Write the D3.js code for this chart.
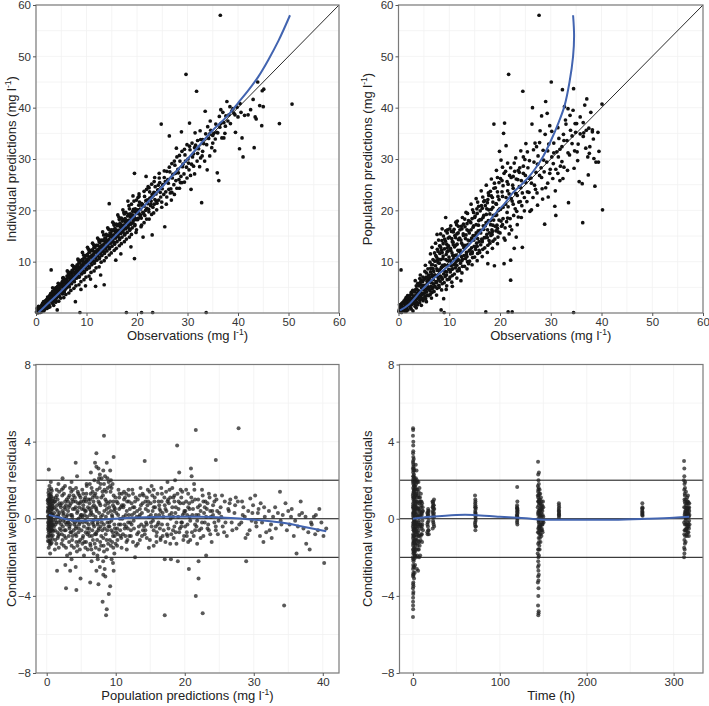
<!DOCTYPE html>
<html><head><meta charset="utf-8">
<script src="https://cdn.jsdelivr.net/npm/d3@7"></script>
<style>body{margin:0;background:#fff} text{font-family:"Liberation Sans",Arial,Helvetica,sans-serif}</style>
</head><body><svg id="c" width="709" height="706"></svg>
<script>
// Panel A: observations vs individual predictions
const obsIpred = [[0.1,0.2],[0.3,0.6],[0.4,0.1],[0.6,0.9],[0.7,0.4],[0.9,1.2],[0.9,0.3],[0.5,1.3],[0.2,0.9],[0.8,0.1],
[1.1,1.5],[1.2,0.8],[1.3,1.9],[1.4,1.1],[1.5,2.2],[1.6,1.3],[1.7,1.7],[1.8,0.9],[1.9,2.4],[1.5,0.4],
[2.1,2.6],[2.2,1.7],[2.3,3.1],[2.4,2.2],[2.5,2.8],[2.6,1.6],[2.7,3.4],[2.8,2.5],[2.9,3.8],[2.5,1.1],
[3,8.4],[3.1,3.5],[3.2,2.7],[3.3,4.2],[3.4,3.1],[3.5,3.7],[3.6,2.4],[3.7,4.5],[3.8,3.5],[3.9,4.9],[3.5,1.5],
[4.1,4.4],[4.2,3.3],[4.3,5.2],[4.4,4],[4.5,4.8],[4.6,3.2],[4.7,5.6],[4.8,4.3],[4.9,5.1],[4.5,2.3],[4.2,0.6],
[5.1,5.5],[5.2,4.3],[5.3,6.2],[5.4,5],[5.5,5.9],[5.6,4.1],[5.7,6.6],[5.8,5.2],[5.9,6],[5.5,3],[5.3,6.8],
[6.1,6.5],[6.2,5.3],[6.3,7.1],[6.4,6],[6.5,7.5],[6.6,5.1],[6.7,6.9],[6.8,5.8],[6.9,7.8],[6.5,3.9],[6.2,8.2],
[7.1,7.4],[7.2,6.3],[7.3,8.1],[7.4,7],[7.5,8.6],[7.6,6.1],[7.7,7.9],[7.8,6.8],[7.9,9],[7.5,4.8],[7.2,9.3],[7.8,2.2],
[8.1,8.5],[8.2,7.3],[8.3,9.1],[8.4,8],[8.5,9.7],[8.6,7.1],[8.7,8.9],[8.8,7.8],[8.9,10.2],[8.5,5.5],[8.3,10.5],[8.7,0.1],[8.9,4.6],
[9.1,9.4],[9.2,8.2],[9.3,10.1],[9.4,9],[9.5,10.7],[9.6,8.1],[9.7,9.9],[9.8,8.8],[9.9,11.2],[9.5,6.5],[9.2,11.8],[9.8,5.3],
[10.1,10.4],[10.2,9.2],[10.3,11.1],[10.4,9.9],[10.5,11.8],[10.6,9],[10.7,10.9],[10.8,9.8],[10.9,12.2],[10.5,7.2],[10.2,12.8],[10.8,6.6],
[11.1,11.3],[11.2,10.1],[11.3,12.1],[11.4,10.9],[11.5,12.8],[11.6,10],[11.7,11.9],[11.8,5.2],[11.9,13.2],[11.5,8.2],[11.2,13.6],[11.8,10.7],
[12.1,12.3],[12.2,11.1],[12.3,13.1],[12.4,11.8],[12.5,13.9],[12.6,10.9],[12.7,12.8],[12.8,11.6],[12.9,14.2],[12.5,9],[12.2,14.6],[12.8,7.4],
[13.1,13.2],[13.2,12],[13.3,14.2],[13.4,12.8],[13.5,5.5],[13.6,11.9],[13.7,13.9],[13.8,12.6],[13.9,15.3],[13.5,10.2],[13.2,15.8],[13.8,14.6],
[14.1,14.1],[14.2,13],[14.3,15.1],[14.4,13.8],[14.5,21.3],[14.6,12.8],[14.7,14.9],[14.8,13.6],[14.9,16.2],[14.5,11.3],[14.2,16.6],[14.8,15.5],
[15.1,15.1],[15.2,13.9],[15.3,16.2],[15.4,14.7],[15.5,17.1],[15.6,13.7],[15.7,15.9],[15.8,14.6],[15.9,17.3],[15.5,12.2],[15.2,17.7],[15.8,10.3],
[16.1,16.1],[16.2,14.9],[16.3,17.2],[16.4,15.6],[16.5,18.2],[16.6,14.6],[16.7,16.8],[16.8,15.5],[16.9,18.5],[16.5,13.1],[16.2,19.1],[16.8,11.5],
[17.1,17],[17.2,15.8],[17.3,18.2],[17.4,16.5],[17.5,19.3],[17.6,15.4],[17.7,17.8],[17.8,16.4],[17.9,0.1],[17.5,13.9],[17.2,20.1],[17.8,19.6],
[18.1,18],[18.2,16.7],[18.3,19.2],[18.4,17.3],[18.5,20.3],[18.6,16.3],[18.7,18.7],[18.8,17.3],[18.9,21.2],[18.5,14.8],[18.2,21.8],[18.8,12.9],
[19.1,19],[19.2,17.6],[19.3,20.2],[19.4,18.2],[19.5,27.2],[19.6,17.2],[19.7,19.7],[19.8,18.2],[19.9,22],[19.5,10.6],[19.2,22.8],[19.8,15.7],
[20.1,20.1],[20.3,18.5],[20.5,21.6],[20.7,19],[20.9,0.1],[20.4,23.2],[20.8,16.8],[20.2,22.5],
[21.1,21],[21.3,19.4],[21.5,22.7],[21.7,20],[21.9,24.1],[21.4,17.6],[21.8,26.6],[21.2,14.8],
[22.1,22],[22.3,20.2],[22.5,23.6],[22.7,20.9],[22.9,25.1],[22.4,18.3],[22.8,21.8],[22.2,24.6],
[23,15.2],[23.1,0.1],[23.2,22.9],[23.4,21.2],[23.6,24.6],[23.8,21.8],[23.5,26.4],[23.3,19.5],
[24.1,24],[24.3,22],[24.5,25.4],[24.7,22.6],[24.8,36.8],[24.4,27.2],[24.9,20.6],
[25.1,25],[25.3,23.1],[25.5,16.8],[25.7,23.6],[25.9,27.6],[25.4,26.4],[25.8,21.2],
[26.1,26],[26.3,24.1],[26.5,27.5],[26.7,24.2],[26.9,29.1],[26.4,34.5],[26.8,22],
[27.1,27],[27.3,25],[27.5,28.8],[27.7,25.8],[27.9,30.4],[27.4,23.1],[27.8,32.1],
[28.1,28],[28.3,26],[28.5,29.6],[28.7,26.6],[28.9,31.5],[28.4,24.3],[28.8,35.3],
[29.1,29],[29.3,27.1],[29.5,30.8],[29.7,46.5],[29.9,32.8],[29.4,25.5],[29.8,28.4],
[30.1,30],[30.3,27.9],[30.5,31.8],[30.7,24.1],[30.9,33.1],[30.4,37],[30.8,29],
[31.2,31],[31.4,27.1],[31.6,32.7],[31.8,43.2],[31.5,35.1],[31.9,29.6],
[32.2,32],[32.4,28.5],[32.6,33.8],[32.8,21.5],[32.5,35.5],[32.9,30.6],
[33.2,33],[33.4,29.6],[33.6,34.9],[33.7,0.1],[33.5,39.3],[33.9,27.9],
[34.2,34],[34.4,30.6],[34.6,35.6],[34.8,32.2],[34.5,37.4],
[35.2,35],[35.4,31.6],[35.6,36.8],[35.9,27.3],[35.5,33.9],
[36.2,25.8],[36.4,36.2],[36.5,58],[36.6,39.6],[36.8,34.1],[36.3,38.3],
[37.2,37.1],[37.4,35],[37.6,38.4],[37.8,41.2],[37.5,36.4],
[38.2,38.6],[38.5,36.9],[38.8,39.4],[38.4,40.2],
[39.2,38.9],[39.5,35.2],[39.8,40.1],[39.4,38.6],
[40.3,32],[40.4,40.8],[40.6,39.1],[40.8,34.1],[41,30.4],[41.3,38.5],[42.5,39.6],[43,41.6],[43.2,32.2],[43.4,38.2],[43.6,37.8],[43.9,45],[44.3,40.4],[44.7,36.5],[44.8,43.3],[45.1,43.6],[45,40.2],[48.2,36.9],[50.7,40.7],[42,38.6]];
const obsIpredBand = [[0.35,0.05],[0.55,0.7],[0.75,0.15],[0.95,0.8],[1.05,0.2],[1.25,1.3],[1.35,0.5],[1.45,1.7],[1.65,0.6],[1.75,1.4],[1.95,1.1],[2.05,2],[2.15,0.9],[2.35,2.4],[2.45,1.4],[2.65,2.3],[2.75,1.2],[2.95,3.1],[3.05,2.2],[3.15,3.9],[3.25,1.9],[3.45,2.8],[3.55,4.2],[3.65,3.1],[3.85,2.4],[3.95,3.9],[4.05,2.9],[4.15,5],[4.35,3.7],[4.45,4.6],[4.55,3.4],[4.65,5.1],[4.85,3.9],[4.95,5.6],[5.05,4.2],[5.15,6],[5.25,3.7],[5.45,5.3],[5.55,4.4],[5.65,6.4],[5.75,4.6],[5.95,5.5],[6.05,4.9],[6.15,7.2],[6.25,5.8],[6.45,6.9],[6.55,5.5],[6.65,7.9],[6.75,6.3],[6.95,6.6],[7.05,5.7],[7.15,8.3],[7.25,6.9],[7.45,7.8],[7.55,6.2],[7.65,8.8],[7.75,7.3],[7.95,8.1],[8.05,6.8],[8.15,9.4],[8.25,7.8],[8.45,8.6],[8.55,7],[8.65,9.9],[8.75,8.3],[8.95,9.2],[9.05,7.6],[9.15,10.4],[9.25,8.7],[9.45,9.7],[9.55,7.9],[9.65,10.8],[9.75,9.2],[9.95,10.1],[10.05,8.5],[10.15,11.4],[10.25,9.6],[10.45,10.6],[10.55,8.8],[10.65,11.9],[10.75,10.1],[10.95,11],[11.05,9.4],[11.15,12.3],[11.25,10.5],[11.45,11.5],[11.55,9.7],[11.65,12.8],[11.75,11],[11.95,11.9],[12.05,10.3],[12.15,13.2],[12.25,11.5],[12.45,12.4],[12.55,10.6],[12.65,13.7],[12.75,11.9],[12.95,12.9],[13.05,11.2],[13.15,14.1],[13.25,12.4],[13.45,13.4],[13.55,11.6],[13.65,14.6],[13.75,12.9],[13.95,13.8],[14.05,12.1],[14.15,15.1],[14.25,13.4],[14.45,14.3],[14.55,12.5],[14.65,15.6],[14.75,13.8],[14.95,14.8],[15.05,13],[15.15,16],[15.25,14.3],[15.45,15.2],[15.55,13.4],[15.65,16.5],[15.75,14.8],[15.95,15.7],[16.05,13.9],[16.15,17],[16.25,15.2],[16.45,16.1],[16.55,14.3],[16.65,17.5],[16.75,15.7],[16.95,16.6],[17.05,14.8],[17.15,17.9],[17.25,16.1],[17.45,17.1],[17.55,15.2],[17.65,18.4],[17.75,16.6],[17.95,17.5],[18.05,15.7],[18.15,18.9],[18.25,17],[18.45,18],[18.55,16.1],[18.65,19.3],[18.75,17.5],[18.95,18.5],[19.05,16.6],[19.15,19.8],[19.25,18],[19.45,18.9],[19.55,17],[19.65,20.3],[19.75,18.4],[19.95,19.4],[20.15,18.2],[20.35,21],[20.45,19.3],[20.65,20.2],[20.85,18.5],[20.95,21.3],[21.15,19.6],[21.35,20.8],[21.55,19],[21.75,21.9],[21.95,20.4],[22.15,21.3],[22.35,19.7],[22.55,22.4],[22.75,21.2],[22.95,22.6],[23.15,20.6],[23.35,23.5],[23.55,22.1],[23.75,23.2],[23.95,21.4],[24.2,24.9],[24.6,23.5],[25,24.2],[25.6,25.6],[26.2,25.3],[26.6,23.4],[27,26.3],[27.6,27.2],[28.2,27.3],[28.6,25.4],[29,28.5],[29.6,29.6],[30.2,29.2],[30.6,26.8],[31,30.4],[31.4,32.2],[32,31.1],[32.6,30.2],[33,33.8],[33.8,32.8],[34.4,34.9],[35,33.1],[35.8,35.2],[36.6,36.9],[37.2,34.1],[38,37.4],[39,39.8],[40,38.2]];
const obsIpredEdge = [[3.3,4.9],[3.9,2.1],[4.4,5.8],[4.9,2.9],[5.4,6.9],[5.9,3.6],[6.4,7.8],[6.9,4.4],[7.4,9.1],[7.9,5.3],[8.4,10.3],[8.9,6.1],[9.4,11.3],[9.9,7],[10.4,12.4],[10.9,7.9],[11.4,13.3],[11.9,8.8],[12.4,14.3],[12.9,9.9],[13.4,15.2],[13.9,10.8],[14.4,16.3],[14.9,11.7],[15.4,17.4],[15.9,12.6],[16.4,18.7],[16.9,13.5],[17.4,19.6],[17.9,14.4],[18.4,20.9],[18.9,15.3],[19.4,21.8],[19.9,16.2],[20.4,22.7],[20.9,17.1],[21.4,23.7],[21.9,18.3],[22.4,24.4],[22.9,19.2],[23.4,25.6],[23.9,20.1],[24.4,26.3],[24.9,21.6],[25.4,27.7],[25.9,22.6],[26.4,28.4],[26.9,23.5],[27.4,29.6],[27.9,24.3],[28.4,30.7],[28.9,25.4],[29.4,31.9],[29.9,26.3],[30.4,32.5],[31.2,28.6],[32,33.6],[33,31.5],[34,36.3],[35,34.6],[36,35.1],[37,39.1],[6,6.2],[7,7.1],[8,7.9],[9,9.1],[10,9.9],[11,11.1],[12,12],[13,13.1],[14,13.9],[15,15.1],[16,15.9],[17,17.1],[18,18],[19,19.1],[20,19.9],[21,21.1],[22,22],[23,23.1],[5,5.1],[4,4.1],[3,3.1],[2,2.1],[1,1.1]];
const smoothA = [[0.5,0.1],[2,1.5],[5,4.3],[10,9.3],[15,14.3],[20,19.4],[25,24.6],[30,30],[35,35.6],[38,38.5],[40,40.9],[42,43.3],[44,46],[46,49.3],[48,53],[50.3,58]];

// Panel B: observations vs population predictions
const obsPred = [[0.1,0.3],[0.3,0.9],[0.4,0.2],[0.5,8.4],[0.6,1.5],[0.7,0.6],[0.8,2],[0.9,1.1],[0.2,1.6],[0.6,0.1],
[1.1,1.8],[1.2,0.7],[1.3,2.6],[1.4,1.4],[1.5,3],[1.6,0.9],[1.7,2.2],[1.8,3.4],[1.9,1.6],[1.5,0.3],
[2.1,2.5],[2.2,1.3],[2.3,3.5],[2.4,2],[2.5,4],[2.6,1.6],[2.7,2.9],[2.8,4.4],[2.9,2.3],[2.5,0.8],
[3.1,3.3],[3.2,1.8],[3.3,4.5],[3.4,2.6],[3.5,5.3],[3.6,2.1],[3.7,3.9],[3.8,5.8],[3.9,3],[3.5,1],[3.3,6.3],
[4.1,4.2],[4.2,2.5],[4.3,5.5],[4.4,3.3],[4.5,6.4],[4.6,2.8],[4.7,4.8],[4.8,7],[4.9,3.8],[4.5,1.5],[4.3,7.4],
[5.1,5.3],[5.2,3.3],[5.3,6.8],[5.4,4.2],[5.5,7.8],[5.6,3.4],[5.7,5.8],[5.8,8.6],[5.9,4.8],[5.5,2.2],[5.3,9.3],[5.8,6.5],
[6.1,6.3],[6.2,4.3],[6.3,8],[6.4,5.2],[6.5,9.4],[6.6,4],[6.7,7.1],[6.8,10.4],[6.9,5.7],[6.5,2.9],[6.3,11.5],[6.8,8.6],[6.6,12.8],
[7.1,7.4],[7.2,5.2],[7.3,9.2],[7.4,6.1],[7.5,10.9],[7.6,4.8],[7.7,8.3],[7.8,12],[7.9,6.6],[7.5,3.5],[7.3,13.6],[7.8,9.8],[7.6,15.3],[7.9,14.2],
[8.1,8.4],[8.2,6.2],[8.3,10.4],[8.4,0.6],[8.5,12.2],[8.6,5.7],[8.7,9.3],[8.8,13.5],[8.9,7.6],[8.5,4.5],[8.3,15.4],[8.8,11.1],[8.6,16.4],[8.2,13],[8.9,2.8],
[9,0.1],[9.1,9.4],[9.2,7.1],[9.3,18.6],[9.4,11.4],[9.5,13.4],[9.6,6.5],[9.7,10.2],[9.8,14.6],[9.9,8.5],[9.5,5.3],[9.3,16],[9.8,12.1],[9.6,15.6],[9.4,4.6],
[10.1,10.3],[10.2,8],[10.3,12.2],[10.4,9.2],[10.5,14.5],[10.6,7.3],[10.7,11.2],[10.8,15.8],[10.9,9.4],[10.5,6],[10.3,17],[10.8,13.3],[10.6,5.2],
[11.1,11.2],[11.2,8.8],[11.3,13.2],[11.4,10.1],[11.5,15.4],[11.6,8.2],[11.7,12.2],[11.8,16.9],[11.9,10.3],[11.5,6.8],[11.3,17.7],[11.8,14.3],
[12.1,12.2],[12.2,9.7],[12.3,14.2],[12.4,11],[12.5,16.4],[12.6,9.1],[12.7,13.2],[12.8,17.3],[12.9,11.2],[12.5,7.8],[12.3,6.3],[12.8,15.1],
[13.1,13.2],[13.2,10.6],[13.3,15.2],[13.4,11.8],[13.5,17.4],[13.6,10],[13.7,14.2],[13.8,18],[13.9,12.1],[13.5,8.6],[13.3,19.6],[13.8,16],
[14.1,14.1],[14.2,11.5],[14.3,16.2],[14.4,12.7],[14.5,18.4],[14.6,10.8],[14.7,15.1],[14.8,19.6],[14.9,13],[14.5,9.4],[14.3,21.2],[14.8,17],
[15.1,15.1],[15.2,12.4],[15.3,17.2],[15.4,13.6],[15.5,19.4],[15.6,11.6],[15.7,16],[15.8,20.8],[15.9,13.9],[15.5,10.2],[15.3,22.3],[15.8,18],
[16.1,16.1],[16.2,13.3],[16.3,18.2],[16.4,14.4],[16.5,20.4],[16.6,12.4],[16.7,17],[16.8,21.7],[16.9,14.7],[16.5,11],[16.3,23.8],[16.8,19],
[17.1,17],[17.2,0.2],[17.3,19.2],[17.4,15.3],[17.5,21.5],[17.6,13.2],[17.7,18],[17.8,22.9],[17.9,15.6],[17.5,11.8],[17.3,24.9],[17.8,20.1],[17.6,9.6],
[18.1,18],[18.2,15.1],[18.3,20.2],[18.4,16.2],[18.5,22.5],[18.6,14],[18.7,19],[18.8,36.8],[18.9,9.2],[18.5,12.6],[18.3,26.1],[18.8,24.3],[18.6,17.1],
[19.1,19],[19.2,16],[19.3,21.2],[19.4,17.1],[19.5,23.6],[19.6,14.8],[19.7,20],[19.8,25.4],[19.9,31.5],[19.5,13.5],[19.3,27.8],[19.8,18.1],
[20.1,20.2],[20.3,16.9],[20.5,22.7],[20.7,35],[20.8,9.6],[20.9,37],[20.4,25.8],[20.6,18.4],[20.2,29.8],[20.8,14.6],[20.5,28.4],
[21.1,21.2],[21.3,17.8],[21.5,23.8],[21.6,0.2],[21.7,46.5],[21.9,26.8],[21.4,19.6],[21.2,32.6],[21.8,15.4],[21.5,29.2],
[22.1,6.4],[22.1,10.3],[22.2,22.3],[22.4,0.2],[22.5,24.9],[22.7,19],[22.9,27.6],[22.3,16.2],[22.6,21.2],[22.8,12.6],
[23.1,23.3],[23.3,19.8],[23.5,26],[23.7,21.6],[23.9,28.3],[23.4,17.2],[23.8,24.6],[23.2,14.8],
[24.1,24.4],[24.4,12.8],[24.5,43.2],[24.3,20.9],[24.6,27.2],[24.8,22.5],[24.2,18.6],[24.9,29.9],
[25.1,25.4],[25.3,21.7],[25.5,28.3],[25.7,23.5],[25.9,19.8],[25.4,31.4],[25.8,26.2],
[26.1,26.3],[26.4,40],[26.3,36.8],[26.5,22.5],[26.7,29.4],[26.9,33.1],[26.2,20.1],[26.8,24.9],
[27.1,27.4],[27.3,23.4],[27.5,30.6],[27.7,58],[27.9,35.5],[27.4,21],[27.8,26.8],[27.2,32.4],
[28.1,28.3],[28.3,24.2],[28.5,31.7],[28.8,17.3],[28.9,34.8],[28.4,22.2],[28.7,27.5],[28.2,38.4],
[29,41.2],[29.2,29.4],[29.4,25.3],[29.6,32.9],[29.8,36.5],[29.5,22.6],[29.9,28],[29.3,38.9],
[30.1,45],[30.2,30.4],[30.4,26.2],[30.6,33.1],[30.8,20.8],[31,19],[30.5,29.1],[30.9,23.8],
[31.2,31.4],[31.4,27.2],[31.6,34],[31.8,25.8],[31.5,30.4],[31.9,28.6],
[32.3,43.5],[32.2,32.4],[32.5,34.8],[32.7,40.2],[32.4,26.2],[32.9,37.6],[32.6,28.4],
[33.2,33.6],[33.5,21.5],[33.4,39.8],[33.7,30.8],[33.9,35.6],[33.3,27.8],
[34.5,43.7],[34.5,0.1],[34.2,34.5],[34.4,39.5],[34.7,31.6],[34.9,35.2],[34.6,28.2],
[35.1,36.9],[35.4,32.9],[35.6,25.6],[35.8,34.9],[35.3,29.7],
[36.3,17.6],[36.2,25.2],[36.5,35.1],[36.7,40.5],[36.9,32.1],[36.4,37.1],
[37.1,41.7],[37.3,30.4],[37.5,36],[37.7,32.4],[37.9,39.1],[37.4,26.9],
[38.2,35.7],[38.5,30.1],[38.7,24.7],[38.9,29.4],[38.4,33.9],
[39.3,35.2],[39.5,31.5],[39.4,29.4],[40.1,40.7],[40.2,20.1]];
const obsPredBand = [[0.15,0.6],[0.35,1.3],[0.45,0.4],[0.65,1.9],[0.85,0.8],[1.05,2.3],[1.15,1.1],[1.25,0.3],[1.45,2],[1.55,1.2],[1.75,2.8],[1.85,0.6],[2.05,1.8],[2.15,3.1],[2.35,1],[2.45,2.6],[2.65,3.6],[2.75,1.9],[2.85,0.4],[2.95,3],
[3.05,2.4],[3.15,4.1],[3.25,1.3],[3.45,3.5],[3.55,4.7],[3.65,2.8],[3.75,1.6],[3.85,4.4],[3.95,3.6],[4.05,5.3],[4.15,2],[4.25,4],[4.35,6],[4.45,2.9],[4.55,4.9],[4.65,3.6],[4.75,6.1],[4.85,2.4],[4.95,4.5],[5.05,6.5],[5.15,3.9],[5.25,5.4],[5.35,2.8],[5.45,7],[5.55,4.7],[5.65,6.2],[5.75,3.5],[5.85,5.1],[5.95,7.4],
[6.05,4.6],[6.15,6.9],[6.25,3.6],[6.35,8.7],[6.45,5.9],[6.55,7.5],[6.65,4.7],[6.75,9.4],[6.85,6.5],[6.95,8.1],[7.05,5.1],[7.15,10.1],[7.25,7.4],[7.35,11.2],[7.45,5.9],[7.55,8.6],[7.65,12.4],[7.75,7],[7.85,10.5],[7.95,5.4],[8.05,9.7],[8.15,11.6],[8.25,7.2],[8.35,12.7],[8.45,8.9],[8.55,14.1],[8.65,6.6],[8.75,10.6],[8.85,15],[8.95,9.2],
[9.05,12.5],[9.15,8.1],[9.25,14],[9.35,10.4],[9.45,7.4],[9.55,11.9],[9.65,16.2],[9.75,9.3],[9.85,13.1],[9.95,10.9],[10.05,14.8],[10.15,7],[10.25,12.6],[10.35,10],[10.45,15.9],[10.55,11.7],[10.65,8.6],[10.75,13.8],[10.85,10.6],[10.95,16.3],[11.05,12.9],[11.15,9.6],[11.25,14.7],[11.35,11.3],[11.45,17.2],[11.55,13.4],[11.65,10.5],[11.75,15.6],[11.85,12.1],[11.95,8.7],
[12.05,14.6],[12.2,11.8],[12.35,16.9],[12.45,13.6],[12.6,10.5],[12.75,15.4],[12.9,12.7],[13.05,18.3],[13.2,14.5],[13.35,11.4],[13.5,16.2],[13.65,13.3],[13.8,9.6],[13.95,15.6],[14.1,12.3],[14.25,17.6],[14.4,14.6],[14.55,11.9],[14.7,16.7],[14.85,14.2],[15,18.6],[15.15,12.9],[15.3,15.6],[15.45,20.3],[15.6,14.5],[15.75,17.1],[15.9,12.2],
[16.05,18.2],[16.2,15.6],[16.35,20.9],[16.5,13.9],[16.65,18.6],[16.8,16.3],[16.95,21.9],[17.1,14.7],[17.25,17.6],[17.4,20.3],[17.55,16.2],[17.7,23.4],[17.85,14.1],[18,19.3],[18.15,17.2],[18.3,22.8],[18.45,15.3],[18.6,20.6],[18.75,18.1],[18.9,25.3],[19.05,16.9],[19.2,21.3],[19.35,19.1],[19.5,26.4],[19.65,15.8],[19.8,22.1],[19.95,20.3],
[20.2,17.9],[20.4,23.6],[20.6,20.6],[20.8,27.2],[21,16.6],[21.2,22.5],[21.4,25.6],[21.6,20.7],[21.8,23.2],[22,18.4],[22.2,26.4],[22.4,21.8],[22.6,24.3],[22.8,29.2],[23,20.3],[23.2,26.1],[23.4,22.9],[23.6,18.7],[23.8,27.4],[24,21.7],[24.2,25.8],[24.4,23.4],[24.6,30.4],[24.8,19.9],[25,26.8],
[25.4,23.6],[25.8,29.7],[26.2,25.3],[26.6,31.8],[27,24.1],[27.4,29],[27.8,33.2],[28.2,26.4],[28.6,29.8],[29,24.4],[29.4,31.6],[29.8,27.2],[30.2,35.4],[30.6,31.2],[31,28],[31.4,36.1],[31.8,31.9],[32.2,29.5],[32.6,33.6],[33,36.8],[33.4,31.2],[33.8,38.5],[34.2,33],[34.8,36.9],[35.2,31.4],[35.8,38.2],[36.4,34.4],[37,35.6],[37.6,31.1],[38.2,35.3]];
const obsPredEdge = [[4.2,6.7],[4.8,5.4],[5.2,8.1],[5.7,6.9],[6.2,9.9],[6.7,8.6],[7.1,11.7],[7.6,10.2],[8.1,13.1],[8.6,11.8],[9.1,14.4],[9.6,12.7],[10.1,16.4],[10.6,13.9],[11.1,15.1],[11.6,17.9],[12.1,16.2],[12.6,18.6],[13.1,16.8],[13.6,19.4],[14.1,17.8],[14.6,20.1],[15.1,18.9],[15.6,21.6],[16.1,19.9],[16.6,22.6],[17.1,20.9],[17.6,22.1],[18.1,23.7],[18.6,21.6],[19.1,24.4],[19.6,22.7],[20.1,26.2],[20.6,24.8],[21.1,27.6],[21.6,25.1],[22.1,28.3],[22.6,26.6],[23.1,30.2],[23.6,27.8],[24.1,31.6],[24.6,28.6],[25.1,33],[4.5,3.9],[5,2.9],[5.5,4.1],[6,3.4],[6.5,5.1],[7,4.2],[7.5,6.1],[8,5],[8.5,6.9],[9,5.9],[9.5,8],[10,6.6],[10.5,8.5],[11,7.6],[11.5,9.3],[12,8.3],[12.5,10.2],[13,9.1],[13.5,11],[14,10.1],[14.5,11.6],[15,10.9],[15.5,13],[16,11.8],[16.5,14.2],[17,12.7],[17.5,14.7],[18,13.6],[18.5,15.9],[19,14.4],[19.5,16.5],[20,15.6],[20.5,17.2],[21,14.2],[21.5,18.5],[22,16.9]];
const smoothB = [[0.3,0.5],[2,1.6],[4.6,4.5],[7,6.8],[10.5,9.8],[14,13.4],[17,16.8],[19.1,19.4],[21,21.4],[22.5,23.4],[24,24.8],[25.5,26.3],[27,28.2],[28.5,30.5],[30,33.5],[31.5,37],[32.7,40.3],[33.7,45],[34.4,50],[34.6,54],[34.4,58]];

// Panel C: population predictions vs CWRES
const predCwres = [[0.2,0.1],[0.3,-0.4],[0.2,0.8],[0.4,-0.9],[0.3,1.2],[0.5,0.3],[0.2,-0.2],[0.4,0.6],[0.6,-0.6],[0.3,1.5],[0.5,-1.1],[0.2,0.4],[0.7,0.9],[0.4,-0.3],[0.6,0.1],[0.3,-0.7],[0.8,-0.2],[0.5,1],[0.2,-0.5],[0.7,-0.9],[0.4,0.2],[0.6,1.3],[0.3,0],[0.8,0.5],[0.5,-0.4],[0.9,0.2],[0.4,1.7],[0.7,-0.1],[0.2,0.6],[0.6,-1.3],[0.3,0.9],[0.8,-0.6],[0.5,0.7],[0.9,-0.3],[0.4,-1.2],[0.7,0.4],[0.3,-0.1],[0.6,0.6],[0.2,1],[0.9,0.8],[0.3,2.55],[0.5,-1.8],
[1.1,0.3],[1.2,-0.6],[1.3,1.1],[1.4,-0.2],[1.5,0.7],[1.6,-1],[1.7,0.1],[1.8,1.4],[1.9,-0.5],[1.2,0.9],[1.4,-1.3],[1.6,0.4],[1.8,-0.8],[1.3,-0.1],[1.7,1.8],[1.5,-2.7],
[2.1,-0.3],[2.2,0.8],[2.3,-1.1],[2.4,0.2],[2.5,1.3],[2.6,-0.6],[2.7,0.5],[2.8,-1.5],[2.9,1],[2.2,-0.8],[2.4,1.6],[2.6,0],[2.8,0.7],[2.3,2.1],[2.7,-0.2],[2.8,-3.6],[2.7,-2.4],
[3.1,0.4],[3.2,-0.9],[3.3,1.2],[3.4,-0.3],[3.5,0.8],[3.6,-1.4],[3.7,0.1],[3.8,1.5],[3.9,-0.6],[3.2,0.6],[3.4,-1.8],[3.6,1.9],[3.8,-0.1],[3.3,-0.5],[3.7,1],[3.4,-2.7],[3.6,-2.1],
[4.1,-0.2],[4.2,0.9],[4.3,-1.2],[4.4,0.3],[4.5,1.4],[4.6,-0.7],[4.7,0.6],[4.8,-1.6],[4.9,1.1],[4.2,-0.5],[4.4,2.2],[4.6,0],[4.8,0.8],[4.3,-0.9],[4.7,-0.3],[4.2,2.9],[4.3,-3.7],[4.9,-3.1],[4.2,-2.5],
[5.1,0.5],[5.2,-1],[5.3,1.3],[5.4,-0.4],[5.5,0.2],[5.6,-1.5],[5.7,0.9],[5.8,1.7],[5.9,-0.8],[5.2,0.1],[5.4,-1.9],[5.6,1.1],[5.8,-0.2],[5.3,0.7],[5.7,-1.2],
[6.1,-0.3],[6.2,0.8],[6.3,-1.3],[6.4,0.4],[6.5,1.6],[6.6,-0.6],[6.7,0.2],[6.8,-1.8],[6.9,1.2],[6.2,-0.9],[6.4,2.4],[6.6,0.6],[6.8,-0.1],[6.3,1],[6.7,-1.1],[6.5,-2.2],[6.9,2],[6.3,-3.3],
[7.1,0.6],[7.2,-0.7],[7.3,1.5],[7.4,-0.2],[7.5,0.9],[7.6,-1.6],[7.7,2.3],[7.8,-0.4],[7.9,1.1],[7.2,2.7],[7.4,-2.1],[7.6,0.3],[7.8,1.8],[7.3,-1.1],[7.7,-2.5],[7.5,2.6],[7.9,-0.9],[7.1,-1.5],[7.2,3.4],[7,2.9],[7.5,-3.4],[7.2,-2.7],
[8.1,0.2],[8.2,-1],[8.3,1.8],[8.4,-0.5],[8.5,1],[8.6,-2],[8.7,0.5],[8.8,2.1],[8.9,-1.3],[8.2,2.5],[8.4,-2.6],[8.6,1.4],[8.8,-0.2],[8.3,-1.7],[8.7,2.9],[8.5,-3],[8.9,0.8],[8.3,4.3],[8.1,-4.3],[8.7,-4.7],[8.6,-5],[8.2,-2.9],
[9.1,-0.4],[9.2,0.9],[9.3,-1.4],[9.4,1.6],[9.5,0.1],[9.6,-0.9],[9.7,1.2],[9.8,-1.8],[9.9,0.5],[9.2,2.5],[9.4,-2.1],[9.6,0.7],[9.8,-0.3],[9.3,2],[9.7,-2.7],[9.7,3.2],[9,-3.9],[9.2,-3.5],[9.6,-2.3],
[10.1,0.3],[10.3,-0.8],[10.5,1.1],[10.7,-0.3],[10.9,0.7],[10.2,-1.4],[10.4,1.5],[10.6,0],[10.8,-1],[10.5,0.5],[10.2,-0.5],[10.9,1.3],
[11.1,0.6],[11.3,-0.5],[11.5,1.3],[11.7,-1.1],[11.9,0.2],[11.2,1],[11.4,-0.9],[11.6,0.4],[11.8,-0.2],[11.2,1.4],[11.6,-1.6],[11.9,0.9],
[12.1,-0.2],[12.3,0.8],[12.5,-1.2],[12.7,0.3],[12.9,1.1],[12.2,-0.6],[12.4,1.5],[12.6,-0.1],[12.8,-2],[12.5,0.6],
[13.1,0.4],[13.3,-0.7],[13.5,1.2],[13.7,-0.3],[13.9,0.8],[13.2,-1.3],[13.4,0.1],[13.6,1.6],[13.8,-0.9],[13.5,0.5],
[14.2,3],[14.1,-0.4],[14.3,0.9],[14.5,-1],[14.7,0.4],[14.9,1.4],[14.4,-0.2],[14.6,0.7],[14.8,-1.5],[14.5,1.1],
[15.1,0.2],[15.3,1.2],[15.5,-0.6],[15.7,0.6],[15.9,-1.2],[15.2,1.7],[15.4,-0.1],[15.6,0.9],[15.8,-0.4],[15.5,1.5],
[16.1,-0.3],[16.3,0.7],[16.5,-1.1],[16.7,1.3],[16.9,0.1],[16.2,0.9],[16.4,-0.5],[16.6,1.6],[16.8,-0.9],[16.5,0.4],
[17.1,-5],[17.1,-2.1],[17.2,0.5],[17.4,-0.8],[17.6,1],[17.8,0.2],[17.3,1.4],[17.5,-0.3],[17.7,0.8],[17.9,-1.3],[17.5,1.9],
[18.1,0.3],[18.3,-0.6],[18.5,1.2],[18.7,0.6],[18.9,3.8],[18,-2.1],[18.2,1.6],[18.4,-1],[18.6,2],[18.8,-0.2],[18.5,0.9],
[19,-2.2],[19.2,2.4],[19.1,0.5],[19.3,-0.5],[19.5,1.1],[19.7,0.2],[19.9,-0.9],[19.4,1.5],[19.6,-0.2],[19.8,0.8],
[20.1,0.4],[20.3,-0.7],[20.5,1.3],[20.6,-2.6],[20.7,0.1],[20.9,2.6],[20.2,0.9],[20.4,-0.3],[20.8,-1.1],[20.5,0.6],
[21,2.2],[21.6,4.6],[21.6,-4],[21.1,0.2],[21.3,-0.9],[21.5,1],[21.7,-0.4],[21.9,0.6],[21.4,1.5],[21.8,-0.1],
[22,-3.1],[22,-2.2],[22.6,-4.9],[22.2,0.7],[22.4,-0.5],[22.6,1.2],[22.8,0.3],[22.3,-1],[22.7,0.9],[22.9,-0.2],
[23.1,-1.9],[23.2,0.5],[23.4,-0.3],[23.6,1.1],[23.8,0.1],[23.3,0.8],[23.7,-0.8],
[24.5,3.05],[24.1,0.2],[24.3,0.9],[24.5,-0.6],[24.7,0.4],[24.9,-0.1],[24.4,1.2],
[25.2,0.6],[25.5,-0.4],[25.8,0.9],[25.3,0.1],[25.7,-0.7],
[26.1,-0.9],[26.3,0.5],[26.6,1],[26.8,-0.2],[26.5,0.8],
[27.8,4.7],[27.2,0.3],[27.5,-0.5],[27.7,0.9],[27.4,1.1],
[28.9,-2.2],[28.2,-0.2],[28.5,0.6],[28.8,-1],[28.4,0.2],
[29.5,1.05],[29.2,0.4],[29.4,-0.6],[29.7,-0.1],[29.9,0.7],
[30.2,1.2],[30.4,-0.4],[30.6,0.3],[30.9,-0.9],[30.7,0.5],
[31.2,-0.2],[31.5,0.6],[31.8,-0.7],[31.4,-1.2],
[32.2,0.4],[32.5,-0.3],[32.8,0.1],[32.6,-1],
[33.8,1.4],[33.2,-0.5],[33.5,0.3],[33.9,-0.1],
[34.4,-4.5],[34.6,0.8],[34.2,0.2],[34.8,-0.6],
[35.2,-0.3],[35.5,0.5],[35.8,-0.9],[35.4,0.1],
[36.2,-1.8],[36.8,0.9],[36.4,-0.4],[36.6,0.2],
[37.6,-1.3],[37.2,-0.5],[37.5,0.1],[37.9,-0.7],
[38.1,-1.6],[38.4,-0.3],[38.7,0.1],[38.9,-0.8],
[39.5,0.5],[39.3,-0.6],[39.8,-0.2],[40.2,-2.3],[40.5,-0.5],[40.1,-0.9]];
const predCwresBand = [[0.15,0.35],[0.25,-0.85],[0.35,0.55],[0.45,-0.15],[0.55,1.15],[0.65,-0.45],[0.75,0.25],[0.85,-1.05],[0.25,1.35],[0.35,-0.55],[0.45,0.85],[0.55,-0.75],[0.65,0.05],[0.75,1.45],[0.85,-0.35],[0.15,-0.95],[0.25,0.15],[0.35,1.05],[0.45,-1.35],[0.55,0.45],[0.65,-0.25],[0.75,0.75],[0.85,0.15],[0.95,-0.65],[0.15,0.95],[0.25,-0.35],[0.35,-1.15],[0.45,1.25],[0.55,-0.05],[0.65,1.55],[0.75,-0.55],[0.85,0.65],[0.95,1.05],[0.3,-1.5],[0.6,1.9],
[1.05,-0.4],[1.15,0.9],[1.25,-1.1],[1.35,0.5],[1.45,1.5],[1.55,-0.7],[1.65,0.2],[1.75,-1.5],[1.85,0.8],[1.95,-0.1],
[2.05,0.6],[2.15,-1.3],[2.25,1.2],[2.35,-0.4],[2.45,0.3],[2.55,-0.9],[2.65,1.7],[2.75,-0.6],[2.85,0.1],[2.95,-1.9],
[3.05,-0.2],[3.15,1.1],[3.25,-1.2],[3.35,0.7],[3.45,-0.7],[3.55,1.4],[3.65,0.2],[3.75,-0.9],[3.85,0.9],[3.95,-1.5],
[4.05,0.5],[4.15,-0.8],[4.25,1.6],[4.35,-0.1],[4.45,-1.4],[4.55,0.8],[4.65,-0.5],[4.75,1.2],[4.85,-1.1],[4.95,0.2],
[5.05,-0.6],[5.15,1.5],[5.25,-0.2],[5.35,0.9],[5.45,-1.2],[5.55,0.4],[5.65,-0.7],[5.75,1.3],[5.85,0.1],[5.95,-1.6],
[6.05,1],[6.15,-0.5],[6.25,1.8],[6.35,-1.4],[6.45,0.3],[6.55,-0.9],[6.65,1.4],[6.75,-0.3],[6.85,0.7],[6.95,-1.3],
[7.05,1.3],[7.15,-0.8],[7.25,0.4],[7.35,-1.9],[7.45,1.9],[7.55,-0.5],[7.65,0.8],[7.75,-1.2],[7.85,0.1],[7.95,2.1],
[8.05,-0.6],[8.15,1.2],[8.25,-1.4],[8.35,0.4],[8.45,2.2],[8.55,-0.8],[8.65,0.9],[8.75,-1.6],[8.85,1.6],[8.95,-0.4],
[9.05,0.6],[9.15,-1.1],[9.25,1.4],[9.35,-0.6],[9.45,0.2],[9.55,1.8],[9.65,-1.5],[9.75,0.4],[9.85,-0.9],[9.95,1.1],
[10.05,-0.7],[10.15,0.9],[10.25,-1.1],[10.35,0.2],[10.45,-0.3],[10.55,1.3],[10.65,-0.6],[10.75,0.6],[10.85,-1.5],[10.95,0],
[11.05,-0.8],[11.15,0.7],[11.25,-0.3],[11.35,1.1],[11.45,0.2],[11.55,-1.2],[11.65,0.9],[11.75,-0.5],[11.85,1.5],[11.95,-0.9],
[12.05,0.5],[12.2,-0.9],[12.35,0.2],[12.5,1.3],[12.65,-0.5],[12.8,0.9],[12.95,-1.4],[13.05,0.1],[13.2,1],[13.35,-0.4],[13.5,-1.1],[13.65,0.7],[13.8,0.3],[13.95,-0.6],[14.05,1.2],[14.2,-0.8],[14.35,0.5],[14.5,-0.3],[14.65,1.5],[14.8,0.1],[14.95,-1.1],[15.05,0.8],[15.2,-0.4],[15.35,0.4],[15.5,-1.4],[15.65,1.1],[15.8,0.2],[15.95,-0.7],[16.05,1.3],[16.2,-0.2],[16.35,0.5],[16.5,-1],[16.65,0.9],[16.8,0.3],[16.95,-0.6],[17.05,1.1],[17.2,-1.2],[17.35,0.4],[17.5,0.9],[17.65,-0.5],[17.8,1.5],[17.95,0],[18.05,-0.8],[18.2,0.6],[18.35,1.1],[18.5,-0.4],[18.65,0.3],[18.8,-1.3],[18.95,1.3],[19.05,0.1],[19.2,-0.7],[19.35,0.8],[19.5,-0.2],[19.65,1.4],[19.8,-1.1],[19.95,0.4],[20.05,-0.4],[20.2,1.5],[20.35,0.2],[20.5,-1.2],[20.65,0.8],[20.8,-0.1],[20.95,1.1],[21.05,-0.7],[21.2,0.5],[21.35,1.8],[21.5,-0.3],[21.65,0.2],[21.8,-1.3],[21.95,1],[22.1,-0.6],[22.3,0.4],[22.5,1.5],[22.7,-0.9],[22.9,0.6],[23.1,0.1],[23.3,-0.5],[23.5,1.3],[23.7,0.4],[23.9,-1.2],[24.1,0.7],[24.3,-0.2],[24.6,1],[24.8,-0.8],[25,0.3],[25.4,1.2],[25.9,-0.2],[26.4,0.4],[26.9,-0.6],[27.3,0.7],[27.9,-0.3],[28.3,0.9],[28.7,0.1],[29.1,-0.8],[29.8,0.3],[30.3,-0.2],[31,0.8],[31.6,0.1],[32.3,-0.6],[33.1,0.6],[34,-0.3],[35,0.4],[36,-0.1],[37,0.3],[38.3,-0.2],[39,0.2]];
const predCwresCore = [[0.22,0.45],[0.32,-0.25],[0.42,1.05],[0.52,-0.65],[0.62,0.25],[0.72,-1.25],[0.82,0.95],[0.92,-0.05],[0.28,-0.6],[0.48,0.15],[0.68,1.15],[0.88,-0.85],[0.38,0.75],[0.58,-0.35],[0.78,0.55],[0.18,-1.15],
[1.08,0.6],[1.28,-0.3],[1.48,1.2],[1.68,-0.9],[1.88,0.3],[1.18,-1.6],[1.38,0.1],[1.58,1],[1.78,-0.2],[1.98,0.7],
[2.08,-0.6],[2.28,0.4],[2.48,-1.4],[2.68,0.9],[2.88,-0.3],[2.18,1.5],[2.38,-0.1],[2.58,0.6],[2.78,-1],[2.98,0.2],
[3.08,0.9],[3.28,-0.4],[3.48,0.2],[3.68,-1.1],[3.88,1.2],[3.18,-0.2],[3.38,1.6],[3.58,-0.7],[3.78,0.5],[3.98,-0.3],
[4.08,1.1],[4.28,-0.4],[4.48,0.4],[4.68,-1.2],[4.88,0.1],[4.18,0.6],[4.38,-1.7],[4.58,1.3],[4.78,-0.2],[4.98,0.9],
[5.08,0.2],[5.28,-0.9],[5.48,1],[5.68,0.4],[5.88,-0.5],[5.18,-1.3],[5.38,0.5],[5.58,-0.1],[5.78,1.8],[5.98,0.6],
[6.08,-0.7],[6.28,0.2],[6.48,-1.6],[6.68,1.1],[6.88,-0.4],[6.18,0.5],[6.38,1.3],[6.58,-0.2],[6.78,0.9],[6.98,-0.8],
[7.08,0.1],[7.28,1.1],[7.48,-0.6],[7.68,1.6],[7.88,-1.4],[7.18,0.5],[7.38,-0.3],[7.58,2.1],[7.78,0.7],[7.98,-0.2],
[8.08,1.4],[8.28,-0.3],[8.48,0.7],[8.68,-1.1],[8.88,0.3],[8.18,-2.2],[8.38,1.5],[8.58,0.1],[8.78,-0.6],[8.98,1.9],
[9.08,-0.2],[9.28,0.4],[9.48,-1.2],[9.68,0.9],[9.88,-0.5],[9.18,1.7],[9.38,-0.1],[9.58,-0.7],[9.78,0.6],[9.98,-1.3],
[10.3,0.8],[10.7,-0.9],[11.1,0.1],[11.5,-0.4],[11.9,1.2],[12.3,-0.3],[12.7,0.6],[13.1,-0.8],[13.5,0.2],[13.9,1.3],[14.3,-0.6],[14.7,0.9],[15.1,-0.2],[15.5,0.6],[15.9,-0.9],[16.3,0.2],[16.7,-0.3],[17.1,0.7],[17.5,-0.9],[17.9,1.1],[18.3,0.1],[18.7,-0.7],[19.1,0.9],[19.5,-0.4],[19.9,0.3],[20.3,-0.9],[20.7,0.5],[21.1,0.9],[21.5,-0.6],[22,0.2],[22.5,-0.2],[23,0.9],[23.5,-0.6],[24,0.4],[24.5,-0.4]];
const smoothC = [[0.3,0.2],[2,0.05],[4,-0.1],[8,-0.05],[12,0.05],[17,0.1],[22,0.1],[26,0.05],[30,-0.05],[34,-0.2],[37,-0.4],[40.5,-0.65]];

// Panel D: time vs CWRES
const timeCwres = [[0.2,4.7],[0.3,4.6],[0.1,4.3],[0.4,3.8],[0.2,3.4],[0.5,3.2],[0.3,3],[0.6,2.8],[0.1,2.6],[0.4,2.4],[0.7,2.2],[0.2,2],[0.5,1.8],[0.3,1.6],[0.8,1.4],[0.1,1.2],[0.6,1],[0.4,0.8],[0.2,0.6],[0.9,0.4],[0.3,0.2],[0.7,0],[0.5,-0.2],[0.1,-0.4],[0.8,-0.6],[0.4,-0.8],[0.2,-1],[0.6,-1.2],[0.3,-1.4],[0.9,-1.6],[0.5,-1.8],[0.1,-2],[0.7,-2.2],[0.4,-2.4],[0.2,-2.6],[0.6,-2.8],[0.3,-3],[0.5,-3.3],[0.1,-3.6],[0.4,-3.9],[0.2,-4.3],[0.3,-4.7],[0.1,-5.1],[0.6,-3.8],[0.2,2.9],[0.5,2.5],[0.3,-2.9],
[1.2,2.3],[1.5,1.9],[1.8,1.5],[2.1,1.1],[2.4,0.7],[1.1,0.3],[1.4,-0.1],[1.7,-0.5],[2,-0.9],[2.3,-1.3],[2.6,-1.7],[1.3,-2.1],[1.6,-2.5],[2.9,0.5],[2.7,-0.3],[1.9,1.3],[2.2,-1.1],[2.5,0.9],[1.4,1.7],[2.8,-0.7],[1.6,2.5],[2.1,-2.8],[1.1,-1.2],[2.4,2],
[3.1,1.2],[3.5,0.6],[3.9,-0.2],[4.3,-0.9],[4.7,0.3],[5.1,1.5],[5.5,-1.4],[3.3,-1.6],[3.7,1.8],[4.1,0.9],[4.5,-0.5],[4.9,-1.9],[5.3,0.1],[5.7,0.8],[3.4,2.1],[4.4,1.3],[5.2,-0.8],[3.8,-1.1],[4.2,2.5],[5.8,-0.3],[4.6,-2.6],
[6.2,0.5],[6.6,-0.6],[7,1.1],[7.4,-1.2],[7.8,0.2],[8.2,0.9],[8.6,-0.3],[9,-0.9],[9.4,0.6],[9.8,0.3],[10.2,-0.4],[10.6,0.8],[11,-0.1],[6.8,-1.6],[7.6,1.6],[8.4,-1.9],[6.4,1.9],[7.2,-2],[9.2,1.3],[10.4,-0.8],[11.5,0.4],[6,-2.7],
[16.5,0.3],[17,-0.2],[17.5,0.5],[18,-0.6],[16.8,0.1],[17.3,-0.4],[17.8,0.2],[18.3,-0.8],[16.6,-0.7],[17.6,0.4],[18.1,-0.1],
[22.5,0.9],[23,0.4],[23.5,-0.2],[24,0.7],[24.5,0.1],[22.8,-0.5],[23.3,0.6],[23.8,0.2],[24.3,1],[22.6,0.3],[23.9,-0.3],[24.6,0.5],[23.1,0.8],
[71.5,1.2],[72,0.9],[72.3,0.6],[71.8,0.3],[72.1,0],[71.6,-0.2],[72.4,-0.4],[71.9,-0.6],[72.2,0.5],[71.7,0.8],[72,0.1],[71.5,-0.3],[72.3,0.2],[71.8,1],
[120,1.65],[120.2,0.9],[119.8,0.6],[120.4,0.4],[119.6,0.2],[120.1,0.5],[120.3,0],[119.9,-0.2],[120.5,0.3],[119.7,0.1],[120.2,-0.3],[120,0.55],
[144,2.95],[144.2,2.3],[144.5,2],[143.8,1.7],[144.3,1.5],[144.7,1.2],[145.2,1],[145.6,0.8],[146,0.5],[143.9,0.3],[144.4,0],[144.8,-0.2],[145.3,-0.5],[145.7,-0.8],[146.2,-1],[144.1,-1.3],[144.6,-1.6],[145,-1.9],[144.2,-2.2],[143.9,-2.5],[144.4,-2.7],[144.1,-3],[143.8,-3.3],[144.5,-3.6],[144.3,-4],[144,-4.5],[144.6,-4.9],[144.3,-5],[144.7,-4.8],[146.5,1.3],[147,0.2],[147.5,-0.6],[148,0.9],[148.5,-0.3],[149,0.4],[149.5,-0.1],[150,0.6],[146.8,-1.2],[147.3,1.1],[148.2,0.1],[149.2,-0.7],[145,2.4],[144.8,1.6],[145.5,-1.4],[146.3,0.1],[143.6,-1.8],[145.1,0.4],[144.9,-2.9],[145.8,1.5],[146.6,-0.4],[148.8,0.7],[150.3,-0.2],[144.5,-3.2],
[168,0.8],[168.2,0.6],[167.8,0.4],[168.1,0.3],[168.3,0.15],[167.9,0.5],[168,0.05],[168.2,0.25],
[264,0.8],[264.2,0.55],[263.8,0.4],[264.1,0.25],[264.3,0.15],[263.9,0.5],[264,0.3],
[312,3],[312.3,2.2],[311.8,2],[312.5,1.8],[312.2,1.5],[313,1.2],[312.8,0.9],[313.5,0.6],[314,0.3],[314.5,0],[315,-0.3],[312.6,-0.6],[313.2,-0.9],[313.8,-1.2],[312.1,-1.5],[312.4,-1.8],[312,-2],[316,0.5],[316.5,-0.2],[317,0.8],[317.5,0.1],[318,0.4],[315.5,1.1],[316.2,-0.7],[317.2,-0.4],[314.2,1.4],[315.3,0.8],[313.6,-0.1],[318.3,-0.3],[316.8,0.2],[314.8,-0.8],[312.9,0.3],[315.8,0.9],[317.8,0.6],[313.3,1.9]];
const timeCwresBand = [[0.15,1.9],[0.25,1.3],[0.35,0.7],[0.45,0.1],[0.55,-0.5],[0.65,-1.1],[0.75,-1.7],[0.85,2.1],[0.95,1.5],[1.05,0.9],[1.15,0.3],[1.25,-0.3],[1.35,-0.9],[1.45,-1.5],[1.55,1.1],[1.65,0.5],[1.75,-0.1],[1.85,-0.7],[1.95,-1.3],[2.05,0.7],[2.15,0.1],[2.25,-0.5],[2.35,1.5],[2.45,-1.9],[2.55,0.3],[2.65,1.2],[2.75,-0.2],[2.85,-1.1],[2.95,0.8],[0.2,-1.3],[0.4,-0.3],[0.6,0.5],[0.8,1.1],[1,-0.6],[1.2,1.7],[1.4,0.6],[1.6,-1.8],[1.8,0.2],[2,-0.4],[2.2,1],[2.4,-1.5],[2.6,0.5],[2.8,1.9],[0.1,0.3],[0.3,-2.1],[0.5,2.2],[0.7,-2.5],[0.9,-0.9],[1.1,2.6],[1.3,-3.1],[0.45,3.5],[0.65,-3.5],[0.25,-4.1],
[3.2,0.6],[3.6,-0.4],[4,1.5],[4.4,-1.3],[4.8,0.9],[5.2,0.1],[5.6,-0.7],[6,1.2],[6.4,-0.2],[6.8,0.5],[7.2,-0.9],[7.6,0.8],[8,-0.4],[8.4,0.4],[8.8,-1.1],[9.2,0.1],[9.6,0.7],[10,-0.5],[10.4,0.3],[10.8,-0.3],[11.2,0.6],[11.6,-0.6],[3.4,1.6],[3.8,-2],[4.2,0.2],[4.6,2],[5,-0.3],[5.4,1.1],[5.8,-1.6],[6.2,-0.9],[6.6,1.4],[7,-0.1],[7.4,0.4],[7.8,-1.4],[8.2,1.1],[8.6,0.2],[9,-0.3],[9.4,-0.8],[9.8,0.9],[10.2,0.2],[10.6,-1.2],[11,0.4],[3.1,-0.6],[4.9,-1.1],[6.9,-1.2],[8.9,0.9],[3.3,2.8],[2.5,-2.4],
[16.7,-0.3],[17.2,0.2],[17.7,-0.6],[18.2,0.4],[16.9,-0.8],[17.4,0.3],[22.7,0.6],[23.2,-0.1],[23.7,0.5],[24.2,0.3],[22.9,0.1],[23.4,0.9],[24.4,-0.4],[23.6,0.7],
[71.6,0.6],[72.1,0.3],[71.9,0.7],[72.2,-0.1],[71.7,0.4],[72,-0.4],
[120.1,0.2],[119.8,0.35],[120.3,0.45],[119.9,0.7],[120.2,0.1],[120,-0.1],
[143.7,0.6],[144.1,0.9],[144.5,0.4],[144.9,0.7],[145.3,-0.1],[145.7,0.2],[146.1,-0.4],[146.5,0.8],[146.9,-0.8],[147.3,0.5],[147.7,0.3],[148.1,-0.5],[148.5,0.5],[148.9,-0.2],[149.3,0.2],[149.7,0.9],[150.1,0.1],[143.9,-0.7],[144.3,-0.5],[144.7,-1],[145.1,-1.2],[145.5,0.3],[145.9,-0.6],[146.3,1],[146.7,0.4],[147.1,-0.3],[147.5,0.7],[147.9,-0.9],[148.3,0.6],[148.7,-0.6],[149.1,-0.3],[143.8,1.2],[144.2,1.1],[144.6,-0.1],[145,-0.4],[145.4,1.3],[145.8,-1.6],[144.4,-2],[144.8,-2.4],[144.1,1.4],[144.6,0.9],
[168.1,0.7],[167.9,0.2],[168.2,0.4],
[264.1,0.6],[263.9,0.2],[264.2,0.35],
[312.2,0.6],[312.6,0.2],[313,-0.3],[313.4,0.8],[313.8,0.4],[314.2,-0.6],[314.6,0.7],[315,0.2],[315.4,-0.5],[315.8,0.4],[316.2,0.1],[316.6,0.6],[317,-0.7],[317.4,0.5],[317.8,-0.1],[318.2,0.2],[312.4,-1.1],[312.8,1.3],[313.2,0.1],[313.6,-0.6],[314,1],[314.4,-0.3],[314.8,0.5],[315.2,-0.9],[315.6,0.1],[316,-0.4],[316.4,0.9],[316.8,-0.3],[317.2,0.3],[317.6,-0.5],[318,0.8],[312.1,-0.2],[312.5,1],[312.9,-1.3],[313.1,1.6],[314.1,0.05],[315.1,0.55],[316.1,0.25],[317.1,0.15],[312.3,-0.8]];
const timeCwresCore = [[0.35,1.1],[0.55,-0.9],[0.75,0.6],[0.95,-0.2],[1.15,1.4],[1.35,-1.7],[1.55,0.3],[1.75,2.1],[1.95,-0.6],[2.15,-1.9],[2.35,0.4],[2.55,1.7],[2.75,-1.3],[2.95,-0.1],[3.5,1.3],[4,-0.7],[4.5,0.5],[5,1.9],[5.5,0.6],[6,-0.4],[0.15,-1.6],[0.6,2.7],[0.8,-2.9],[1,3.1],[0.3,-3.4],[0.5,4],[0.2,-4.5],[144.3,0.2],[144.7,-0.7],[145.1,0.9],[145.5,-0.3],[144.9,1.8],[144.1,-1.6],[313.5,0.4],[314.5,-0.5],[315.5,0.3],[316.5,1.2],[317.5,-0.9],[312.7,-1.6],[312.3,2.6]];
const smoothD = [[0,0],[20,0.1],[50,0.2],[70,0.2],[100,0.1],[130,0.02],[150,-0.05],[180,-0.05],[230,-0.05],[270,0],[300,0.05],[318,0.1]];

const ticksTop = [0,10,20,30,40,50,60];
const ticksTopY = [10,20,30,40,50,60];
const ticksRes = [-8,-4,0,4,8];
const ticksPred = [0,10,20,30,40];
const ticksTime = [0,100,200,300];

const svg = d3.select("#c");
const BLUE = "#4264b0";

function panel(o){
  const g = svg.append("g");
  const x = d3.scaleLinear().domain(o.xd).range([o.l,o.r]);
  const y = d3.scaleLinear().domain(o.yd).range([o.b,o.t]);
  const gx = d3.range(Math.ceil(o.xd[0]/o.xm)*o.xm, o.xd[1]+1e-9, o.xm);
  const gy = d3.range(Math.ceil(o.yd[0]/o.ym)*o.ym, o.yd[1]+1e-9, o.ym);
  g.selectAll(null).data(gx).enter().append("line")
    .attr("x1",d=>x(d)).attr("x2",d=>x(d)).attr("y1",o.t).attr("y2",o.b)
    .attr("stroke","#f1f1f1").attr("stroke-width",0.8);
  g.selectAll(null).data(gy).enter().append("line")
    .attr("y1",d=>y(d)).attr("y2",d=>y(d)).attr("x1",o.l).attr("x2",o.r)
    .attr("stroke","#f1f1f1").attr("stroke-width",0.8);
  const clipId = "clip"+o.id;
  svg.append("clipPath").attr("id",clipId).append("rect")
    .attr("x",o.l).attr("y",o.t).attr("width",o.r-o.l).attr("height",o.b-o.t);
  if (o.identity){
    g.append("line").attr("x1",x(0)).attr("y1",y(0)).attr("x2",x(60)).attr("y2",y(60))
      .attr("stroke","#111").attr("stroke-width",0.9);
  }
  if (o.hlines){
    g.selectAll(null).data(o.hlines).enter().append("line")
      .attr("x1",o.l).attr("x2",o.r).attr("y1",d=>y(d)).attr("y2",d=>y(d))
      .attr("stroke","#111").attr("stroke-width",1);
  }
  g.append("g").selectAll("circle").data(o.pts).enter().append("circle")
    .attr("cx",d=>x(d[0])).attr("cy",d=>y(d[1])).attr("r",o.r0)
    .attr("fill",o.fill).attr("fill-opacity",o.op);
  g.append("path").datum(o.smooth)
    .attr("d",d3.line().x(d=>x(d[0])).y(d=>y(d[1])).curve(d3.curveCatmullRom))
    .attr("fill","none").attr("stroke",BLUE).attr("stroke-width",2).attr("clip-path","url(#"+clipId+")");
  g.append("rect").attr("x",o.l).attr("y",o.t).attr("width",o.r-o.l).attr("height",o.b-o.t)
    .attr("fill","none").attr("stroke","#7a7a7a").attr("stroke-width",1.2);
  const ax = g.append("g").attr("transform",`translate(0,${o.b})`)
    .call(d3.axisBottom(x).tickValues(o.xt).tickSize(3).tickPadding(2).tickFormat(d3.format("d")));
  const ay = g.append("g").attr("transform",`translate(${o.l},0)`)
    .call(d3.axisLeft(y).tickValues(o.yt).tickSize(3).tickPadding(2).tickFormat(d=>d<0?"\u2212"+Math.abs(d):d));
  [ax,ay].forEach(a=>{
    a.select(".domain").remove();
    a.selectAll(".tick line").attr("stroke","#555");
    a.selectAll(".tick text").attr("fill","#333").attr("font-size",11.5)
      .attr("font-family","'Liberation Sans',Arial,sans-serif");
  });
  const tx = g.append("text").attr("x",(o.l+o.r)/2).attr("y",o.xty)
    .attr("text-anchor","middle").attr("font-size",13).attr("fill","#222");
  addTitle(tx,o.xt0,o.unit);
  const ty = g.append("text").attr("transform",`translate(${o.ytx},${(o.t+o.b)/2}) rotate(-90)`)
    .attr("text-anchor","middle").attr("font-size",13).attr("fill","#222");
  addTitle(ty,o.yt0,o.yunit);
}
function addTitle(t,label,unit){
  if(!unit){ t.text(label); return; }
  t.append("tspan").text(label+" (mg l");
  t.append("tspan").attr("dy",-5).attr("font-size",8.5).text("-1");
  t.append("tspan").attr("dy",5).text(")");
}

panel({id:1,l:36,r:339,t:5,b:313,xd:[0,60],yd:[0,60],xm:5,ym:5,xt:ticksTop,yt:ticksTopY,
  pts:obsIpred.concat(obsIpredBand,obsIpredEdge),r0:1.85,fill:"#111",op:1,smooth:smoothA,identity:true,
  xt0:"Observations",unit:true,yt0:"Individual predictions",yunit:true,xty:340,ytx:16});
panel({id:2,l:398.5,r:703,t:5,b:313,xd:[0,60],yd:[0,60],xm:5,ym:5,xt:ticksTop,yt:ticksTopY,
  pts:obsPred.concat(obsPredBand,obsPredEdge),r0:1.85,fill:"#111",op:1,smooth:smoothB,identity:true,
  xt0:"Observations",unit:true,yt0:"Population predictions",yunit:true,xty:340,ytx:372});
panel({id:3,l:36,r:339,t:364.5,b:673,xd:[-1.55,42.35],yd:[-8,8],xm:5,ym:2,xt:ticksPred,yt:ticksRes,
  pts:predCwres.concat(predCwresBand,predCwresCore),r0:2,fill:"#222",op:0.75,smooth:smoothC,hlines:[-2,0,2],
  xt0:"Population predictions",unit:true,yt0:"Conditional weighted residuals",yunit:false,xty:700,ytx:16});
panel({id:4,l:399.5,r:703,t:364.5,b:673,xd:[-15.4,333.8],yd:[-8,8],xm:50,ym:2,xt:ticksTime,yt:ticksRes,
  pts:timeCwres.concat(timeCwresBand,timeCwresCore),r0:2,fill:"#222",op:0.75,smooth:smoothD,hlines:[-2,0,2],
  xt0:"Time (h)",unit:false,yt0:"Conditional weighted residuals",yunit:false,xty:700,ytx:372});
</script>
</body></html>
